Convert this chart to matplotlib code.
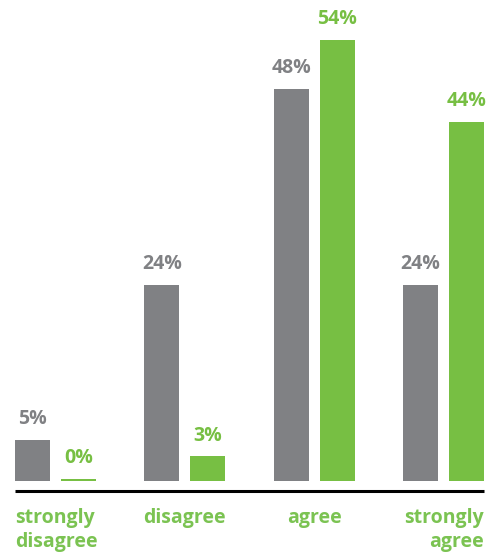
import matplotlib
matplotlib.use("Agg")
import matplotlib.pyplot as plt
from matplotlib.transforms import blended_transform_factory
import numpy as np

categories = ["strongly\ndisagree", "disagree", "agree", "strongly\nagree"]
series_gray = [5, 24, 48, 24]
series_green = [0, 3, 54, 44]

GRAY = "#808184"
GREEN = "#77BF43"
LABEL_GREEN = "#7BC352"

plt.rcParams['font.family'] = ['Open Sans', 'DejaVu Sans']

W, H = 499, 554
fig = plt.figure(figsize=(W / 100, H / 100), dpi=100)
left_px, right_px, base_px = 15, 484, 481
ax = fig.add_axes([left_px / W, (H - base_px) / H, (right_px - left_px) / W, base_px / H])
ax.set_xlim(-0.313, 3.313)
ax.set_ylim(0, 481 / 8.17)
ax.axis("off")

x = np.arange(len(categories))
bw = 35 / 129.3
off = (35 + 11) / 129.3 / 2

gray_bars = ax.bar(x - off, series_gray, bw, color=GRAY)
green_h = [max(v, 0.3) for v in series_green]
green_bars = ax.bar(x + off, green_h, bw, color=GREEN)

for xi, v in zip(x - off, series_gray):
    ax.annotate(f"{v}%", (xi, v), xytext=(0, 11.5), textcoords="offset points",
                ha="center", va="baseline", fontsize=14, fontweight="bold", color=GRAY)
for xi, v, h in zip(x + off, series_green, green_h):
    ax.annotate(f"{v}%", (xi, h), xytext=(0, 11.5), textcoords="offset points",
                ha="center", va="baseline", fontsize=14, fontweight="bold", color=GREEN)

# axis line
ax.plot([0, 1], [-10 / 481, -10 / 481], transform=ax.transAxes, color="black",
        lw=2.2, clip_on=False, solid_capstyle="butt")

trans = blended_transform_factory(ax.transData, ax.transAxes)
ylab = -27 / 481
has = ["left", "center", "center", "right"]
xs = [-0.313, 1, 2, 3.313]
for xi, lab, ha in zip(xs, categories, has):
    ax.text(xi, ylab, lab, transform=trans, ha=ha, va="top", fontsize=14,
            fontweight="bold", color=LABEL_GREEN, linespacing=1.3,
            multialignment=ha)

fig.savefig("out.png", dpi=100)
